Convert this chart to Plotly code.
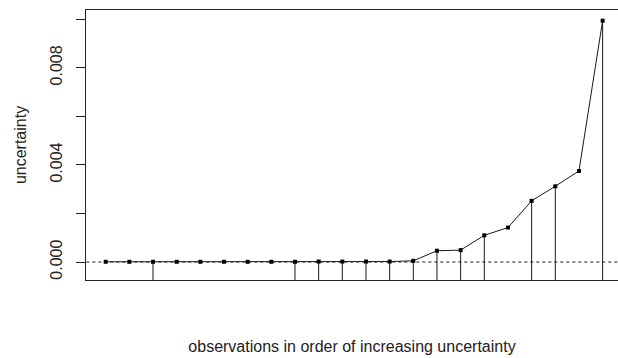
import plotly.graph_objects as go

# Data
obs = list(range(1, 23))
uncertainty = [0.00001, 0.00001, 0.00001, 0.00001, 0.00001, 0.00001, 0.00001, 0.00001,
               0.00001, 0.00002, 0.00002, 0.00002, 0.00002, 0.00005, 0.000465, 0.00049,
               0.0011, 0.00142, 0.00252, 0.00312, 0.00375, 0.00994]
misclassified = [3, 9, 10, 11, 12, 13, 14, 15, 16, 17, 19, 20, 22]
y_tickvals = [0.0, 0.002, 0.004, 0.006, 0.008, 0.010]
y_ticktext = ["0.000", "", "0.004", "", "0.008", ""]

YMIN, YMAX = -0.00074, 0.01038
XMIN, XMAX = 0.168, 22.65

fig = go.Figure()

# vertical segments for misclassified observations
seg_x, seg_y = [], []
for i in misclassified:
    seg_x += [obs[i - 1], obs[i - 1], None]
    seg_y += [YMIN - 0.001, uncertainty[i - 1], None]
fig.add_trace(go.Scatter(x=seg_x, y=seg_y, mode="lines",
                         line=dict(color="#1a1a1a", width=1), hoverinfo="skip",
                         showlegend=False))

# dotted zero line
fig.add_trace(go.Scatter(x=[XMIN - 1, XMAX + 1], y=[0, 0], mode="lines",
                         line=dict(color="#1a1a1a", width=1, dash="dot"),
                         hoverinfo="skip", showlegend=False))

# main line with points
fig.add_trace(go.Scatter(x=obs, y=uncertainty, mode="lines+markers",
                         line=dict(color="#1a1a1a", width=1),
                         marker=dict(symbol="square", size=4, color="black"),
                         showlegend=False))

FONT = "Liberation Sans, Arial, sans-serif"
fig.update_layout(
    width=618, height=358,
    margin=dict(l=86, r=0, t=10, b=78),
    paper_bgcolor="white", plot_bgcolor="white",
    font=dict(family=FONT, size=16, color="#222"),
    xaxis=dict(range=[XMIN, XMAX], showgrid=False, zeroline=False,
               showticklabels=False, ticks="", showline=True, mirror=True,
               linecolor="#222", linewidth=1, automargin=False,
               title=dict(text="observations in order of increasing uncertainty",
                          font=dict(size=16, family=FONT, color="#222"), standoff=60)),
    yaxis=dict(range=[YMIN, YMAX], showgrid=False, zeroline=False,
               tickvals=y_tickvals, ticktext=y_ticktext, tickangle=-90,
               ticks="outside", ticklen=9, tickcolor="#222", tickwidth=1,
               showline=True, linecolor="#222", linewidth=1, automargin=False,
               tickfont=dict(size=16, family=FONT, color="#222"),
               ticklabelstandoff=8,
               title=dict(text="uncertainty", font=dict(size=16, family=FONT, color="#222"),
                          standoff=16)),
)

fig.write_html("out.html", config={"displayModeBar": False},
               post_script="document.body.style.margin='0';")
